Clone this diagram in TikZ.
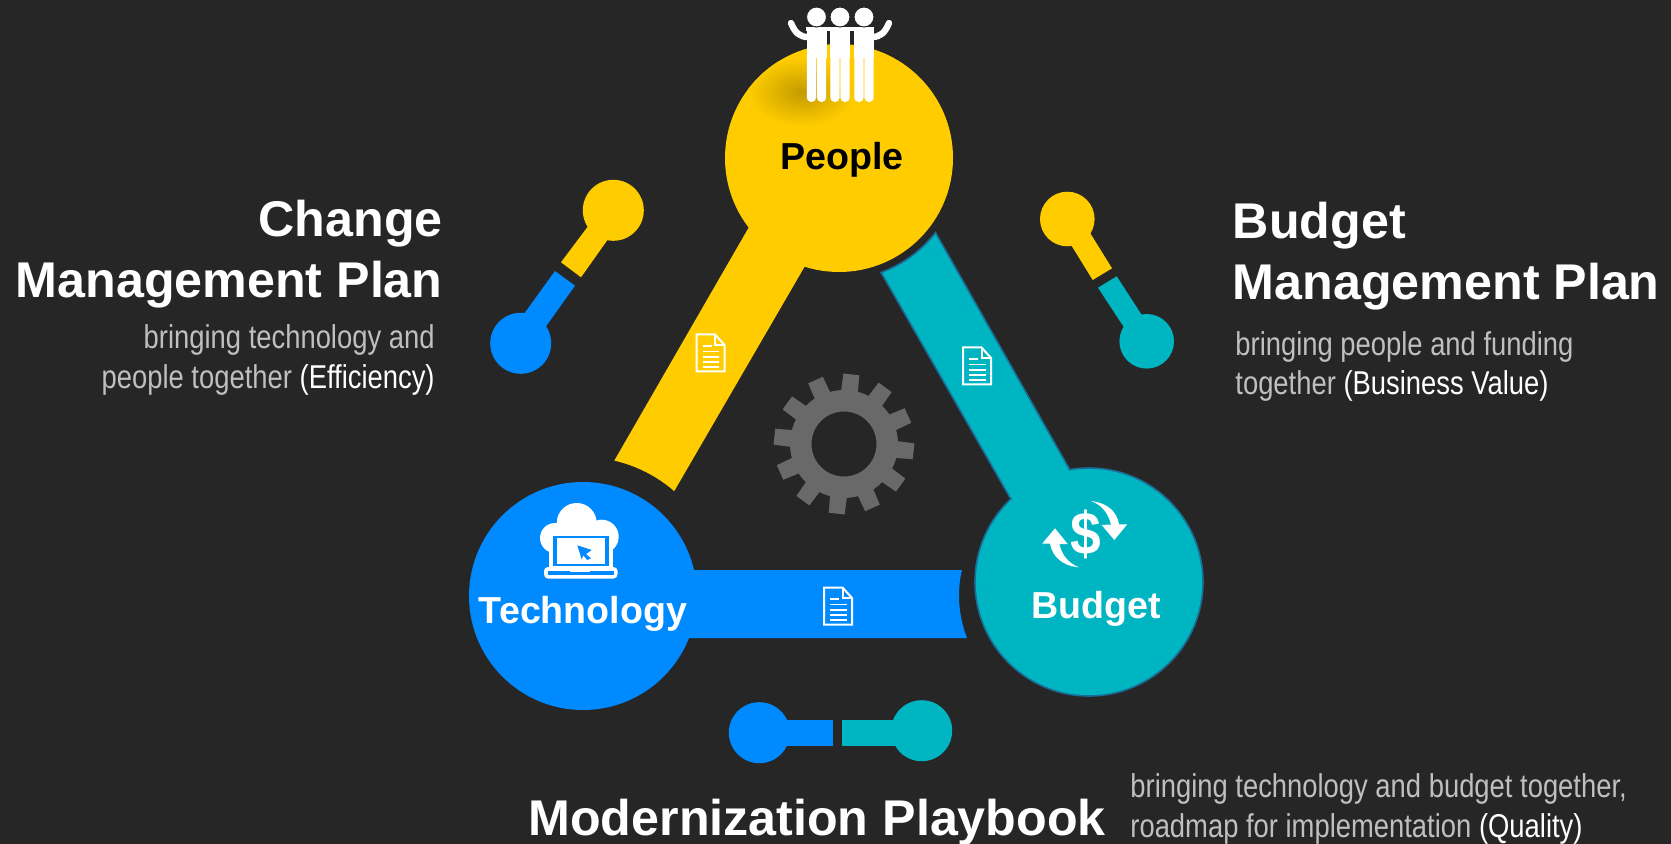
\documentclass[tikz,border=0pt]{standalone}
\usepackage{fontspec}
\setmainfont{Liberation Sans}
\newfontfamily\narrowf[FakeStretch=0.83]{Liberation Sans}
\usetikzlibrary{shadings}
\definecolor{bg}{HTML}{262626}
\definecolor{yel}{HTML}{FFCC00}
\definecolor{blu}{HTML}{008AFF}
\definecolor{tea}{HTML}{00B5C2}
\definecolor{teaedge}{HTML}{1A6E96}
\definecolor{gry}{HTML}{BFBFBF}
\definecolor{gearc}{HTML}{696969}
\tikzset{
  disc/.style={circle,inner sep=0pt,minimum size=114pt},
  dot/.style={circle,inner sep=0pt,minimum size=30.5pt},
  smalldot/.style={circle,inner sep=0pt,minimum size=27.3pt},
  head/.style={font=\bfseries\fontsize{25.1}{28}\selectfont,text=white,inner sep=0pt},
  sub/.style={font=\narrowf\fontsize{16.5}{19.75}\selectfont,text=gry,inner sep=0pt},
  dlabel/.style={font=\bfseries\fontsize{18.8}{22}\selectfont,inner sep=0pt},
  docicon/.pic={
    \draw[white,line width=1pt,line join=miter] (-14,-18.5) -- (4.5,-18.5) -- (14,-8) -- (14,18.5) -- (-14,18.5) -- cycle;
    \draw[white,line width=1pt] (4.5,-18.5) -- (4.5,-8) -- (14,-8);
    \draw[white,line width=0.9pt] (-8,-7) -- (1,-7) (-8,-1.5) -- (8.5,-1.5) (-8,3.7) -- (8.5,3.7) (-8,8.7) -- (8.5,8.7) (-8,13.7) -- (8.5,13.7);
  }
}
\begin{document}
\begin{tikzpicture}[x=0.5pt,y=-0.5pt]
\useasboundingbox (0,0) rectangle (1671,844);
\fill[bg] (0,0) rectangle (1671,844);
% bars
\fill[yel] (749,227) -- (614.3,460.6) arc[start angle=-77,end angle=-49,radius=139] -- (805,266) -- cycle;
\draw[teaedge,fill=tea,line width=0.8pt] (935.5,232.6) arc[start angle=37.7,end angle=69.8,radius=122] -- (1012,501) -- (1071,472) -- cycle;
\fill[blu] (650,570) -- (962,570) .. controls (957,590) and (958,615) .. (967,638) -- (650,638) -- cycle;
% gear
\begin{scope}[shift={(844,444)}]
\fill[gearc,even odd rule] (0,0) circle (54) (0,0) circle (32.5);
\foreach \a in {-96,-66,...,234}{
  \fill[gearc,rotate=\a] (50,-8.5) -- (70,-8) -- (70,8) -- (50,8.5) -- cycle;
}
\end{scope}
% main discs
\node[disc,fill=yel] (people) at (839,158) {};
\node[disc,fill=blu] (tech) at (583,596) {};
\node[disc,fill=tea,draw=teaedge,line width=0.8pt] (budget) at (1089,582) {};
\fill[tea] (1005,486.5) -- (1013,500.4) -- (1070,472.6) -- (1062,458.7) -- cycle;
% shadow under figures
\begin{scope}
\clip (839,158) circle (114);
\shade[inner color=yel!76!black,outer color=yel,shading=radial] (802,92) ellipse [x radius=54, y radius=34];
\end{scope}
% people figures
\begin{scope}[white]
\foreach \cx in {816.5,840,864}{
  \fill (\cx-10,30) rectangle (\cx+10,58);
  \fill[rounded corners=2.2pt] (\cx-9.7,50) rectangle (\cx-0.4,102);
  \fill[rounded corners=2.2pt] (\cx+0.4,50) rectangle (\cx+9.7,102);
}
\fill (806,27) rectangle (874,31);
\draw[line width=3.2pt,line cap=round,line join=round] (791,23) .. controls (795,33) and (800,37) .. (808,37);
\draw[line width=3.2pt,line cap=round,line join=round] (889,23) .. controls (885,33) and (880,37) .. (872,37);
\end{scope}
\foreach \cx in {816.5,840,864}{
  \fill[white,draw=bg,line width=0.5pt] (\cx,17) circle (10);
}
% technology icon: cloud and laptop
\fill[white] (576.7,523) circle (20) (555,538) circle (15) (601.7,536.7) circle (17);
\fill[white] (555,530) rectangle (602,553);
\fill[white] (549,545) rectangle (612.7,569);
\fill[blu] (552.7,535.7) rectangle (609,566);
\fill[white] (556.7,538.3) rectangle (605,563.5);
\fill[white,rounded corners=2pt] (544,567) rectangle (617.5,578.5);
\fill[blu] (548,571) rectangle (613.5,575);
\fill[white] (570,570) rectangle (590,572);
\fill[blu] (577.3,545.3) -- (591.7,550) -- (586,554) -- (591,558.3) -- (587.3,560) -- (583.3,555.3) -- (581.7,559.3) -- cycle;
% budget icon
\node[font=\bfseries\fontsize{30}{32}\selectfont,text=white,inner sep=0pt,xscale=0.92] (dollar) at (1085.5,534) {\$};
\fill[white] (1091,501) .. controls (1108,503) and (1117,512) .. (1119,524.3) -- (1127.3,524.3) -- (1114.3,540) -- (1101.7,525) -- (1111,524.5) .. controls (1108,513) and (1102,505) .. (1091,501) -- cycle;
\fill[white] (1079,567.3) .. controls (1062,566) and (1052,556) .. (1050,543.5) -- (1042.3,543.5) -- (1055,528.3) -- (1067.7,544) -- (1059.3,544) .. controls (1062,555) and (1068,563) .. (1079,567.3) -- cycle;
% disc labels
\node[dlabel,text=black] (plab) at (842,160) {People};
\node[dlabel,text=white] (tlab) at (583,614) {Technology};
\node[dlabel,text=white] (blab) at (1096,609) {Budget};
% docs
\pic at (710.5,353) {docicon};
\pic at (977,366) {docicon};
\pic at (838,606) {docicon};
% dumbbells
\fill[yel] (592,221) -- (611,235) -- (581,277.3) -- (561,262.3) -- cycle;
\fill[blu] (555,271) -- (575,285.7) -- (542,332) -- (521,318) -- cycle;
\node[dot,fill=yel] (ly) at (613.3,210.3) {};
\node[dot,fill=blu] (lb) at (520.7,343.3) {};
\fill[yel] (1068,240) -- (1087,228) -- (1112,268.3) -- (1092.7,280) -- cycle;
\fill[tea] (1116.7,276.3) -- (1098,287.7) -- (1127,332) -- (1145,320) -- cycle;
\node[smalldot,fill=yel] (ry) at (1067.3,219) {};
\node[smalldot,fill=tea] (rt) at (1146.7,341.3) {};
\fill[blu] (759,720) rectangle (833,745.7);
\fill[tea] (842,720) rectangle (920,745.7);
\node[dot,fill=blu] (bb) at (759.3,732.7) {};
\node[dot,fill=tea] (bt) at (921.7,730.7) {};
% headings
\node[head,anchor=base east] (h1a) at (443,237) {Change};
\node[head,anchor=base east] (h1b) at (443,298) {Management Plan};
\node[sub,anchor=base east] (s1a) at (435,349) {bringing technology and};
\node[sub,anchor=base east] (s1b) at (435,389) {people together \textcolor{white}{(Efficiency)}};
\node[head,anchor=base west] (h2a) at (1232.5,239) {Budget};
\node[head,anchor=base west] (h2b) at (1232.5,300) {Management Plan};
\node[sub,anchor=base west] (s2a) at (1235,356) {bringing people and funding};
\node[sub,anchor=base west] (s2b) at (1235,395) {together \textcolor{white}{(Business Value)}};
\node[head,anchor=base west] (h3) at (528,835) {Modernization Playbook};
\node[sub,anchor=base west] (s3a) at (1130,797) {bringing technology and budget together,};
\node[sub,anchor=base west] (s3b) at (1130,837) {roadmap for implementation \textcolor{white}{(Quality)}};
\end{tikzpicture}
\end{document}
